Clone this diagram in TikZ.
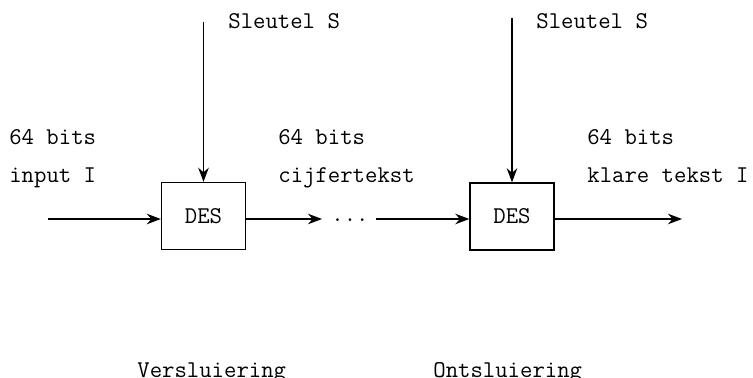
\documentclass[tikz,border=0pt]{standalone}
\usetikzlibrary{arrows.meta}
\begin{document}
\begin{tikzpicture}[x=0.02cm,y=-0.02cm,
	every node/.style={font=\ttfamily\fontsize{13.7}{16}\selectfont},
	desbox/.style={draw,line width=0.8pt,minimum width=1.68cm,minimum height=1.34cm,inner sep=0pt},
	tekst/.style={anchor=base west,inner sep=0pt},
	pijl/.style={line width=0.8pt,-{Stealth[length=8pt,width=6pt]}}]
	\useasboundingbox (0,0) rectangle (753,378);
	
	% versluiering
	\node[desbox] (des1) at (203.5,216) {DES};
	\coordinate (in1) at (48,219);
	\coordinate (uit1) at (322,219);
	\coordinate (k1) at (203.5,22);
	\draw[pijl] (in1) -- (in1 -| des1.west);
	\draw[pijl] (k1) -- (des1.north);
	\draw[pijl] (des1.east |- in1) -- (uit1);
	\node[anchor=base,inner sep=0pt] (dots) at (350,221.5) {...};
	
	% ontsluiering
	\node[desbox] (des2) at (512,216.5) {DES};
	\coordinate (in2) at (376,219);
	\coordinate (uit2) at (682,219);
	\coordinate (k2) at (512,18);
	\draw[pijl] (in2) -- (in2 -| des2.west);
	\draw[pijl] (k2) -- (des2.north);
	\draw[pijl] (des2.east |- in2) -- (uit2);
	
	% teksten
	\node[tekst] (sl1) at (228,29) {Sleutel S};
	\node[tekst] (b1) at (9,145) {64 bits};
	\node[tekst] (inp) at (9,183) {input I};
	\node[tekst] (b2) at (278,145) {64 bits};
	\node[tekst] (cij) at (278,183) {cijfertekst};
	\node[tekst] (sl2) at (536,29) {Sleutel S};
	\node[tekst] (b3) at (587,145) {64 bits};
	\node[tekst] (kl) at (587,183) {klare tekst I};
	\node[tekst] (vers) at (137,377) {Versluiering};
	\node[tekst] (onts) at (433,377) {Ontsluiering};
\end{tikzpicture}
\end{document}
